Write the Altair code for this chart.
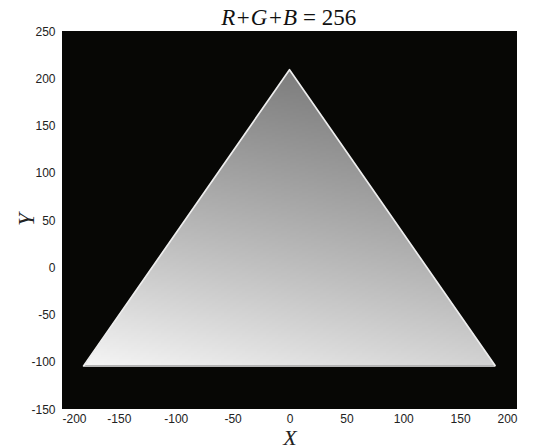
import numpy as np
import pandas as pd
import altair as alt

# Colours whose channels add up to a fixed total, projected onto the plane
TOTAL = 256
PLOT_W, PLOT_H = 455, 378
X_RANGE = [-200, 200]
Y_RANGE = [-150, 250]
ROW_STEP = 2 * (Y_RANGE[1] - Y_RANGE[0]) / PLOT_H   # two screen pixels per row
COL_STEP = 3 * (X_RANGE[1] - X_RANGE[0]) / PLOT_W   # three screen pixels per column
# printed grey of each pure primary (0-255) and the tone curve of the print
PRIMARY_GRAY = {"R": 210, "G": 245, "B": 125}
TONE_GAMMA = 2.0
X_TICKS = [-200, -150, -100, -50, 0, 50, 100, 150, 200]
Y_TICKS = [-150, -100, -50, 0, 50, 100, 150, 200, 250]

S2, S6 = np.sqrt(2.0), np.sqrt(6.0)
WEIGHT = {k: (v / 255.0) ** (1 / TONE_GAMMA) / TOTAL for k, v in PRIMARY_GRAY.items()}


def project(r, g, b):
    """Plane coordinates: red to the right, green to the left, blue on top."""
    return (r - g) / S2, (2 * b - r - g) / S6


def grey(r, g, b):
    lin = WEIGHT["R"] * r + WEIGHT["G"] * g + WEIGHT["B"] * b
    level = int(np.clip(round(255 * lin ** TONE_GAMMA), 0, 255))
    return "#{0:02x}{0:02x}{0:02x}".format(level)


y_top = project(0, 0, TOTAL)[1]
col_grid = np.arange(X_RANGE[0], X_RANGE[1] + COL_STEP, COL_STEP)

rows = []
y_lo = Y_RANGE[0] + np.ceil((project(TOTAL, 0, 0)[1] - Y_RANGE[0]) / ROW_STEP - 1e-6) * ROW_STEP
while y_lo < y_top:
    y_hi = y_lo + ROW_STEP
    yv = (y_lo + y_hi) / 2
    b = (TOTAL + S6 * yv) / 3
    rg = TOTAL - b
    x_edge = rg / S2                      # half-width of the triangle on this row
    if x_edge > 0.3:
        cuts = [-x_edge] + [c for c in col_grid if -x_edge < c < x_edge] + [x_edge]
        for x_start, x_stop in zip(cuts[:-1], cuts[1:]):
            xc = (x_start + x_stop) / 2
            r = (rg + S2 * xc) / 2
            g = (rg - S2 * xc) / 2
            rows.append({
                "x0": x_start, "x1": min(x_stop + 0.05, x_edge),
                "y0": y_lo - 0.03, "y1": y_hi + 0.03,
                "shade": grey(max(r, 0), max(g, 0), max(b, 0)),
            })
    y_lo = y_hi
cells_df = pd.DataFrame(rows)

# triangle outline through the three pure primaries
corners = [(TOTAL, 0, 0), (0, 0, TOTAL), (0, TOTAL, 0), (TOTAL, 0, 0)]
edge_df = pd.DataFrame(
    [{"ex": project(*c)[0], "ey": project(*c)[1], "k": i} for i, c in enumerate(corners)]
)

xscale = alt.Scale(domain=X_RANGE, nice=False, zero=False)
yscale = alt.Scale(domain=Y_RANGE, nice=False, zero=False)

label_font = "Liberation Sans"
plain_number = "'' + datum.value"
x_axis = alt.Axis(
    values=X_TICKS, title="X", grid=False, ticks=False, domain=False,
    labelExpr=plain_number,
    labelFont=label_font, labelFontSize=12, labelColor="#222", labelPadding=4,
    titleFont="Liberation Serif", titleFontStyle="italic", titleFontWeight="normal",
    titleFontSize=22, titleColor="#222", titlePadding=3,
)
y_axis = alt.Axis(
    values=Y_TICKS, title="Y", grid=False, ticks=False, domain=False,
    labelExpr=plain_number,
    labelFont=label_font, labelFontSize=12, labelColor="#222", labelPadding=7,
    titleFont="Liberation Serif", titleFontStyle="italic", titleFontWeight="normal",
    titleFontSize=23, titleColor="#222", titleX=-36, titleY=188,
    titleAlign="center", titleBaseline="middle", titleAngle=270,
)

cells = alt.Chart(cells_df).mark_rect(strokeWidth=0).encode(
    x=alt.X("x0:Q", scale=xscale, axis=x_axis),
    x2="x1:Q",
    y=alt.Y("y0:Q", scale=yscale, axis=y_axis),
    y2="y1:Q",
    color=alt.Color("shade:N", scale=None),
)

edge = alt.Chart(edge_df).mark_line(
    color="#eeeeee", strokeWidth=1.7, strokeJoin="round"
).encode(
    x=alt.X("ex:Q", scale=xscale),
    y=alt.Y("ey:Q", scale=yscale),
    order="k:Q",
)

title_left = alt.Chart(pd.DataFrame({"t": ["R+G+B"]})).mark_text(
    font="Liberation Serif", fontStyle="italic", fontSize=23, color="#111",
    align="right", baseline="alphabetic",
).encode(x=alt.value(235), y=alt.value(-6), text="t:N")

title_right = alt.Chart(pd.DataFrame({"t": ["= 256"]})).mark_text(
    font="Liberation Serif", fontSize=23, color="#111",
    align="left", baseline="alphabetic",
).encode(x=alt.value(241), y=alt.value(-6), text="t:N")

chart = (
    alt.layer(cells, edge, title_left, title_right)
    .properties(
        width=PLOT_W, height=PLOT_H,
        autosize=alt.AutoSizeParams(type="none"),
        padding={"left": 62, "top": 31, "right": 36, "bottom": 39},
        background="white",
    )
    .configure_view(fill="#070705", stroke=None)
)

chart.save("out.html", embed_options={"renderer": "svg", "actions": False})
